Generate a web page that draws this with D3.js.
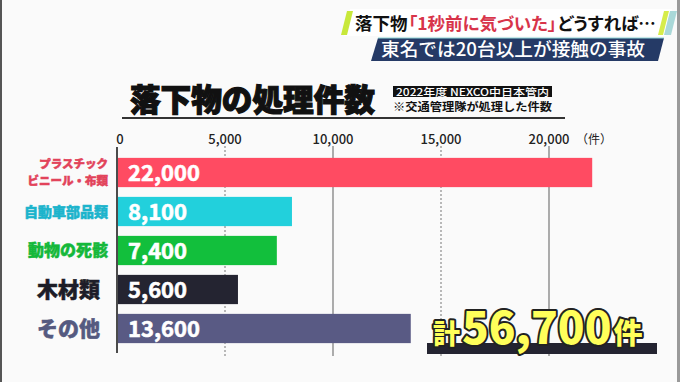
<!DOCTYPE html>
<html>
<head>
<meta charset="utf-8">
<script src="https://cdn.jsdelivr.net/npm/d3@7"></script>
<style>
  html, body { margin: 0; padding: 0; background: #fafafa; }
  svg { display: block; font-family: 'Noto Sans CJK JP', 'Noto Sans', sans-serif; }
  .head { font-feature-settings: 'palt'; }
</style>
</head>
<body>
<svg width="680" height="382"></svg>
<script>
// データ
var categories = ['プラスチック\nビニール・布類', '自動車部品類', '動物の死骸', '木材類', 'その他']
var values = [22000, 8100, 7400, 5600, 13600]
var tickValues = [0, 5000, 10000, 15000, 20000]
var totalCount = 56700

// 見た目
var barColors = ['#ff4b62', '#22d0dc', '#12bf3c', '#242431', '#595a84']
var labelColors = ['#e2435a', '#1cb4cc', '#14b83a', '#1d1d28', '#555a80']
var labelSizes = [11.5, 14, 16, 21, 21]

var svg = d3.select('svg'),
    width = +svg.attr('width'),
    height = +svg.attr('height')

svg.append('rect').attr('width', width).attr('height', height).attr('fill', '#fafafa')
svg.append('rect').attr('x', 0).attr('y', 0).attr('width', 2).attr('height', height).attr('fill', '#555')
svg.append('rect').attr('x', 677).attr('y', 0).attr('width', 3).attr('height', height).attr('fill', '#9a9a9a')

// ヘッダーのテロップ
var header = svg.append('g')
header.append('path').attr('d', 'M350,9 L672,9 L666,36 L344,36 Z').attr('fill', '#ffffff')
header.append('path').attr('d', 'M347,11 L353,11 L347,35 L341,35 Z').attr('fill', '#c8e83a')
header.append('path').attr('d', 'M664,11 L669,11 L663,35 L658,35 Z').attr('fill', '#d6ec4a')
header.append('path').attr('d', 'M670,11 L677,11 L671,35 L664,35 Z').attr('fill', '#a9d8d8')
header.append('path').attr('d', 'M378,38 L664,38 L658,61 L371,61 Z').attr('fill', '#253a66')
header.append('line').attr('x1', 378).attr('x2', 664).attr('y1', 38).attr('y2', 38)
    .attr('stroke', '#8fd6d8').attr('stroke-width', 1)

// 見出しは部分ごとに別テキスト、幅を測って順に並べる
var headParts = [
  { text: '落下物', color: '#111' },
  { text: '「1秒前に気づいた」', color: '#d8344a' },
  { text: 'どうすれば…', color: '#111' }
]
var head = header.selectAll('.head')
    .data(headParts)
  .enter().append('text')
    .attr('class', 'head')
    .attr('y', 30)
    .attr('font-size', 17.5).attr('font-weight', 700)
    .attr('fill', function(d) { return d.color })
    .text(function(d) { return d.text })
var hx = 355
head.each(function() {
  var t = d3.select(this)
  t.attr('x', hx)
  hx += this.getComputedTextLength() + 1
})

header.append('text')
    .attr('x', 381).attr('y', 56)
    .attr('font-size', 18).attr('font-weight', 500)
    .attr('fill', '#fff')
    .attr('textLength', 264).attr('lengthAdjust', 'spacingAndGlyphs')
    .text('東名では20台以上が接触の事故')

// タイトル
svg.append('text')
    .attr('x', 130).attr('y', 111)
    .attr('font-size', 31).attr('font-weight', 900)
    .attr('fill', '#111').attr('stroke', '#111').attr('stroke-width', 1.2)
    .attr('textLength', 245).attr('lengthAdjust', 'spacingAndGlyphs')
    .text('落下物の処理件数')

svg.append('rect').attr('x', 393).attr('y', 86).attr('width', 159).attr('height', 11).attr('fill', '#111')
svg.append('text')
    .attr('x', 396).attr('y', 95.5)
    .attr('font-size', 10.5).attr('font-weight', 500).attr('fill', '#fff')
    .attr('textLength', 153).attr('lengthAdjust', 'spacingAndGlyphs')
    .text('2022年度 NEXCO中日本管内')
svg.append('text')
    .attr('x', 393).attr('y', 111)
    .attr('font-size', 11.5).attr('font-weight', 700).attr('fill', '#111')
    .attr('textLength', 159).attr('lengthAdjust', 'spacingAndGlyphs')
    .text('※交通管理隊が処理した件数')

svg.append('rect').attr('x', 122).attr('y', 117).attr('width', 443).attr('height', 2).attr('fill', '#333')

// スケール
var x = d3.scaleLinear().domain([0, 20000]).range([117, 549])
var y = d3.scaleBand().domain(categories).range([153, 348])
    .paddingInner(0.25).paddingOuter(0.125)

// 目盛りとグリッド
var grid = svg.append('g')
grid.selectAll('line')
    .data(tickValues.slice(1))
  .enter().append('line')
    .attr('x1', function(d) { return x(d) }).attr('x2', function(d) { return x(d) })
    .attr('y1', 146).attr('y2', 356)
    .attr('stroke', '#777')
    .attr('stroke-width', function(d) { return d % 10000 == 0 ? 1.2 : 1 })
    .attr('stroke-dasharray', function(d) { return d % 10000 == 0 ? null : '2,2' })

svg.selectAll('.tick-label')
    .data(tickValues)
  .enter().append('text')
    .attr('class', 'tick-label')
    .attr('x', function(d) { return x(d) + (d == 0 ? 3 : 0) })
    .attr('y', 144)
    .attr('text-anchor', 'middle')
    .attr('font-size', 13).attr('font-weight', 500)
    .attr('fill', '#222')
    .text(function(d) { return d3.format(',')(d) })
svg.append('text')
    .attr('x', 576).attr('y', 144)
    .attr('font-size', 12).attr('fill', '#222')
    .text('（件）')

// 棒
svg.selectAll('.bar')
    .data(values)
  .enter().append('rect')
    .attr('class', 'bar')
    .attr('x', x(0) + 1)
    .attr('y', function(d, i) { return y(categories[i]) })
    .attr('width', function(d) { return x(d) - x(0) - 1 })
    .attr('height', y.bandwidth())
    .attr('fill', function(d, i) { return barColors[i] })

svg.append('line')
    .attr('x1', x(0)).attr('x2', x(0))
    .attr('y1', 147).attr('y2', 353)
    .attr('stroke', '#111').attr('stroke-width', 1.5)

// 値ラベル
svg.selectAll('.value')
    .data(values)
  .enter().append('text')
    .attr('class', 'value')
    .attr('x', 128)
    .attr('y', function(d, i) { return y(categories[i]) + y.bandwidth() / 2 + 8 })
    .attr('font-size', 22).attr('font-weight', 700)
    .attr('fill', '#fff').attr('stroke', '#fff').attr('stroke-width', 0.6)
    .text(function(d) { return d3.format(',')(d) })

// カテゴリラベル(1行ずつ別テキスト)
var catLines = []
categories.forEach(function(c, i) {
  var lines = c.split('\n')
  lines.forEach(function(line, j) {
    catLines.push({ text: line, i: i, cy: y(c) + y.bandwidth() / 2 + (j - (lines.length - 1) / 2) * 16.5 })
  })
})
svg.selectAll('.cat')
    .data(catLines)
  .enter().append('text')
    .attr('class', 'cat')
    .attr('text-anchor', 'end')
    .attr('font-weight', 900)
    .attr('font-size', function(d) { return labelSizes[d.i] })
    .attr('fill', function(d) { return labelColors[d.i] })
    .attr('stroke', function(d) { return labelColors[d.i] })
    .attr('stroke-width', 0.5)
    .attr('x', function(d) { return labelSizes[d.i] > 18 ? 100 : 108 })
    .attr('y', function(d) { return d.cy + labelSizes[d.i] * 0.36 })
    .text(function(d) { return d.text })

// 合計
svg.append('rect').attr('x', 427).attr('y', 343).attr('width', 230).attr('height', 11).attr('fill', '#242431')
var total = svg.append('text')
    .attr('x', 433).attr('y', 344)
    .attr('font-weight', 900)
    .attr('fill', '#ffff5a')
    .attr('stroke', '#222')
    .attr('stroke-width', 4)
    .attr('stroke-linejoin', 'round')
    .attr('paint-order', 'stroke')
total.append('tspan').attr('font-size', 27).text('計')
total.append('tspan').attr('font-size', 44).attr('dx', 2).text(d3.format(',')(totalCount))
total.append('tspan').attr('font-size', 29).attr('dx', 2).text('件')
</script>
</body>
</html>
